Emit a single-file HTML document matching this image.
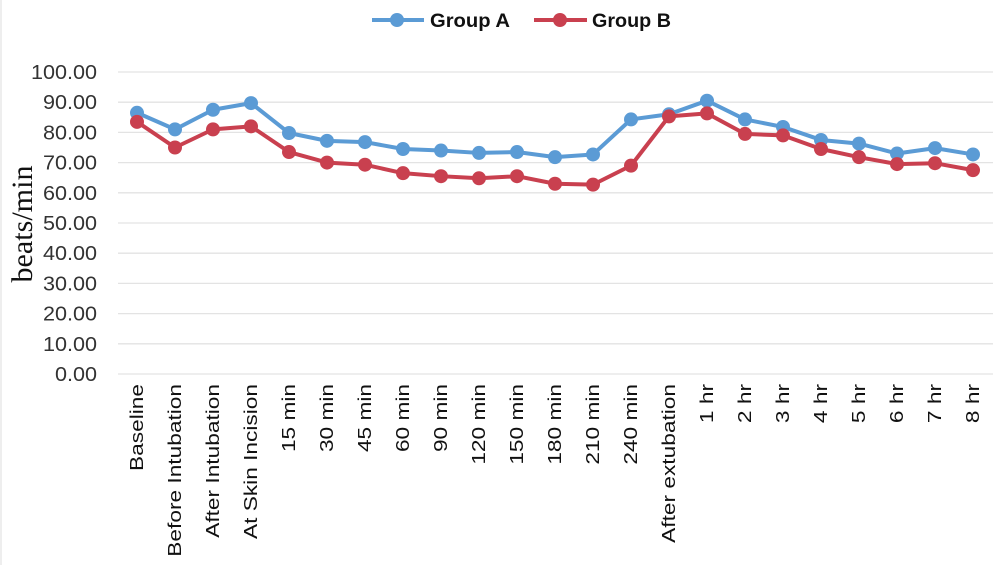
<!DOCTYPE html>
<html><head><meta charset="utf-8"><style>body{margin:0;background:#fff}svg{display:block}</style></head><body>
<svg width="1000" height="565" xmlns="http://www.w3.org/2000/svg" font-family="Liberation Sans, sans-serif">
<rect x="0" y="0" width="1000" height="565" fill="#fff"/>
<line x1="1" y1="0" x2="1" y2="565" stroke="#ddd"/>
<g id="grid" stroke="#e3e3e3" stroke-width="1.3"></g>
<g id="ylab" font-size="20" fill="#333" text-anchor="end"></g>
<text transform="translate(32,224) rotate(-90)" text-anchor="middle" font-family="Liberation Serif, serif" font-size="30" fill="#111" textLength="117" lengthAdjust="spacingAndGlyphs">beats/min</text>
<g id="xlab" font-size="18" fill="#111" text-anchor="end"></g>
<g id="series"></g>
<g>
<line x1="372" y1="20" x2="424" y2="20" stroke="#5b9bd5" stroke-width="4"/><circle cx="397" cy="20" r="7" fill="#5b9bd5"/>
<text x="430" y="27" font-size="19" font-weight="bold" fill="#111" textLength="80" lengthAdjust="spacingAndGlyphs">Group A</text>
<line x1="534" y1="20" x2="587" y2="20" stroke="#c9404f" stroke-width="4"/><circle cx="560" cy="20" r="7" fill="#c9404f"/>
<text x="592" y="27" font-size="19" font-weight="bold" fill="#111" textLength="79" lengthAdjust="spacingAndGlyphs">Group B</text>
</g>
<script>
var ns="http://www.w3.org/2000/svg";
function el(p,t,a,txt){var e=document.createElementNS(ns,t);for(var k in a)e.setAttribute(k,a[k]);if(txt)e.textContent=txt;document.getElementById(p).appendChild(e);return e;}
function Y(v){return 374-v*3.02;}
for(var i=0;i<=10;i++){var y=Y(i*10);el("grid","line",{x1:118,x2:993,y1:y,y2:y});el("ylab","text",{x:97,y:y+7,transform:"translate(97,0) scale(1.08,1) translate(-97,0)"},(i*10).toFixed(2));}
var cats=["Baseline","Before Intubation","After Intubation","At Skin Incision","15 min","30 min","45 min","60 min","90 min","120 min","150 min","180 min","210 min","240 min","After extubation","1 hr","2 hr","3 hr","4 hr","5 hr","6 hr","7 hr","8 hr"];
function X(i){return 137+i*38;}
cats.forEach(function(c,i){el("xlab","text",{transform:"translate("+(X(i)+6)+",384) rotate(-90) scale(1.26,1)"},c);});
var A=[86.5,81,87.5,89.7,79.8,77.2,76.8,74.5,74,73.2,73.5,71.8,72.7,84.3,86,90.5,84.3,81.8,77.5,76.3,73,74.8,72.7];
var B=[83.5,75,81,82,73.5,70,69.3,66.5,65.5,64.8,65.5,63,62.7,69,85.3,86.3,79.5,79,74.5,71.8,69.5,69.8,67.5];
[[A,"#5b9bd5"],[B,"#c9404f"]].forEach(function(s){
 el("series","polyline",{points:s[0].map(function(v,i){return X(i)+","+Y(v)}).join(" "),fill:"none",stroke:s[1],"stroke-width":4,"stroke-linejoin":"round"});
 s[0].forEach(function(v,i){el("series","circle",{cx:X(i),cy:Y(v),r:7,fill:s[1]});});
});
</script>
</svg>
</body></html>
